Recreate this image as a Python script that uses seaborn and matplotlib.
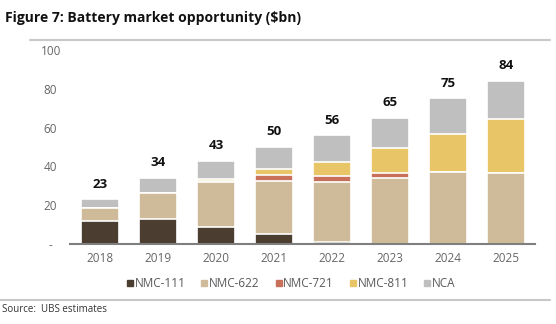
import numpy as np
import pandas as pd
import matplotlib
matplotlib.use("Agg")
import matplotlib.pyplot as plt
import seaborn as sns
from matplotlib.lines import Line2D

years = ["2018", "2019", "2020", "2021", "2022", "2023", "2024", "2025"]
nmc111 = [12, 13, 9, 5, 1, 0, 0, 0]
nmc622 = [6.5, 13.5, 23, 27.5, 31, 34, 37, 36.5]
nmc721 = [0, 0, 0.7, 3, 3, 2.5, 0, 0]
nmc811 = [0, 0, 1, 3, 7, 13, 19.5, 28]
nca = [4.5, 7.5, 9.3, 11.5, 14, 15.5, 18.5, 19.5]
totals = [23, 34, 43, 50, 56, 65, 75, 84]
series_names = ["NMC-111", "NMC-622", "NMC-721", "NMC-811", "NCA"]
colors = ["#4b3d30", "#cfbb99", "#c8705a", "#e8c567", "#bfbfbf"]
yticks = [0, 20, 40, 60, 80, 100]
ytick_labels = ["-", "20", "40", "60", "80", "100"]

sns.set_theme(style="white")
plt.rcParams["font.family"] = ["Open Sans", "DejaVu Sans"]

df = pd.DataFrame({"year": years, "NMC-111": nmc111, "NMC-622": nmc622,
                   "NMC-721": nmc721, "NMC-811": nmc811, "NCA": nca})
cum = df[series_names].cumsum(axis=1)

fig = plt.figure(figsize=(5.56, 3.24), dpi=100)
ax = fig.add_axes([0.126, 0.247, 0.836, 0.599])

for i in range(len(series_names) - 1, -1, -1):
    name = series_names[i]
    sns.barplot(x=df["year"], y=cum[name], color=colors[i], ax=ax,
                width=0.65, edgecolor="white", linewidth=1.2,
                saturation=1, order=years)

for i, t in enumerate(totals):
    ax.text(i, t + 4.5, str(t), ha="center", va="bottom", fontsize=9.5,
            fontweight="bold", color="#111111")

ax.set_ylim(0, 100)
ax.set_xlim(-0.52, 7.5)
ax.set_yticks(yticks)
ax.set_yticklabels(ytick_labels)
ax.set_xlabel("")
ax.set_ylabel("")
for s in ["top", "right", "left"]:
    ax.spines[s].set_visible(False)
ax.spines["bottom"].set_color("#7f7f7f")
ax.spines["bottom"].set_linewidth(1.5)
ax.tick_params(axis="both", length=0, labelsize=8.5, colors="#666666")
ax.tick_params(axis="y", pad=14)
ax.tick_params(axis="x", pad=6)
for lbl in ax.get_yticklabels():
    lbl.set_horizontalalignment("center")

handles = [Line2D([0], [0], marker="s", linestyle="", markersize=4.5,
                  markerfacecolor=c, markeredgecolor=c) for c in colors]
fig.legend(handles, series_names, loc="center", bbox_to_anchor=(0.52, 0.125),
           ncol=5, frameon=False, fontsize=8.5, handletextpad=-0.2,
           columnspacing=1.0, handlelength=1.2, labelcolor="#595959")

fig.text(0.009, 0.945, "Figure 7: Battery market opportunity ($bn)",
         fontsize=10, fontweight="bold", color="#111111", va="center")
fig.add_artist(Line2D([0.054, 0.99], [0.876, 0.876], color="#c8c8c8", lw=1.5,
                      transform=fig.transFigure))
fig.add_artist(Line2D([0.0, 0.99], [0.073, 0.073], color="#c8c8c8", lw=1.5,
                      transform=fig.transFigure))
fig.text(0.004, 0.045, "Source:  UBS estimates", fontsize=7, color="#333333",
         va="center")

fig.savefig("out.png", dpi=100)
